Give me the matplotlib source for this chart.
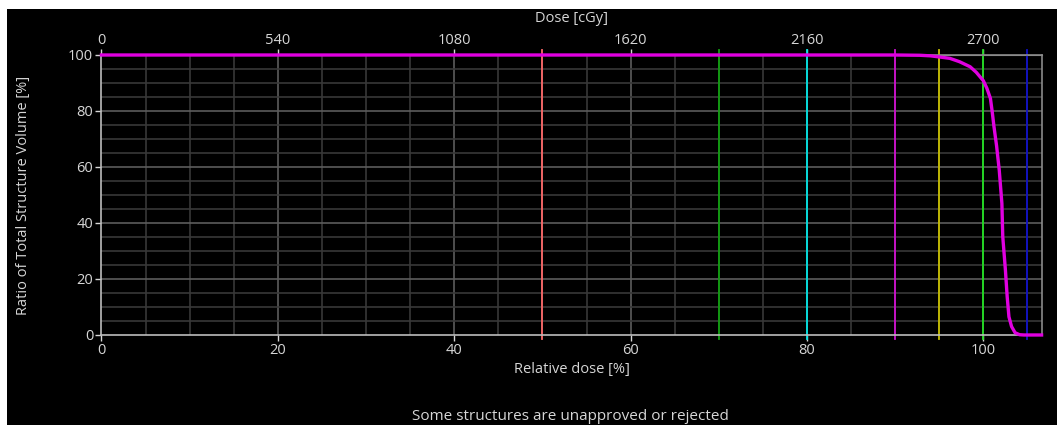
import matplotlib
matplotlib.use('Agg')
import matplotlib.pyplot as plt
from matplotlib.patches import Rectangle

plt.rcParams['font.family'] = ['Open Sans', 'DejaVu Sans']

# DVH curve (relative dose %, volume %)
rel_dose = [0, 90, 92.8, 94.0, 95.0, 96.2, 97.3, 98.5, 99.2, 100.0, 100.4, 100.8, 101.0,
            101.2, 101.5, 101.8, 102.1, 102.2, 102.5, 102.7, 102.9, 103.2, 103.6,
            104.1, 104.6, 106.6]
volume = [100, 100, 99.9, 99.7, 99.3, 98.8, 97.6, 95.8, 93.8, 90.8, 88.1, 84.5, 79.8,
          74.5, 67.5, 58.9, 47.0, 35.1, 23.2, 13.7, 6.5, 3.0, 0.8,
          0.1, 0, 0]

# isodose reference lines (relative dose %)
ref_levels = [50, 70, 80, 90, 95, 100, 105]
ref_colors = ['#ff6a6a', '#10a010', '#00e5e5', '#d010d0', '#c8c000', '#20e020', '#1010c8']

prescription = 2700  # cGy at 100 %
x_ticks = [0, 20, 40, 60, 80, 100]
y_ticks = [0, 20, 40, 60, 80, 100]
dose_ticks = [0, 540, 1080, 1620, 2160, 2700]

txt = '#d6d6d6'
fs = 10.5

fig = plt.figure(figsize=(10.57, 4.25), dpi=100, facecolor='white')
fig.patches.append(Rectangle((7 / 1057, 0), 1, 416 / 425, transform=fig.transFigure,
                             facecolor='black', edgecolor='none', zorder=-10))

ax = fig.add_axes([0.096, 0.2118, 0.8894, 0.6588])
ax.set_facecolor('black')
ax.set_xlim(0, 106.6)
ax.set_ylim(0, 100)

# grid
for v in range(5, 106, 5):
    c = '#5c5c5c' if v % 20 == 0 else '#383838'
    ax.axvline(v, color=c, lw=1.2, zorder=1)
for v in range(5, 100, 5):
    c = '#5c5c5c' if v % 20 == 0 else '#383838'
    ax.axhline(v, color=c, lw=1.2, zorder=1)

for lvl, col in zip(ref_levels, ref_colors):
    ax.plot([lvl, lvl], [-1.6, 101.8], color=col, lw=1.3, clip_on=False, zorder=2)

ax.plot(rel_dose, volume, color='#e000e0', lw=2.4, zorder=3, clip_on=False,
        solid_joinstyle='round')

for side in ['left', 'bottom']:
    ax.spines[side].set_color('#bcbcbc')
for side in ['top', 'right']:
    ax.spines[side].set_color('#8a8a8a')
for s in ax.spines.values():
    s.set_linewidth(1.2)

ax.set_xticks(x_ticks)
ax.set_yticks(y_ticks)
ax.tick_params(colors=txt, labelsize=fs, length=4, width=1, pad=2)
ax.set_xlabel('Relative dose [%]', color=txt, fontsize=fs, labelpad=3)
ax.set_ylabel('Ratio of Total Structure Volume [%]', color=txt, fontsize=fs, labelpad=27)

top = ax.secondary_xaxis('top', functions=(lambda x: x * prescription / 100,
                                           lambda d: d * 100 / prescription))
top.set_xticks(dose_ticks)
top.tick_params(colors=txt, labelsize=fs, length=4, width=1, pad=1)
top.spines['top'].set_color('#8a8a8a')
top.set_xlabel('Dose [cGy]', color=txt, fontsize=fs, labelpad=8)

fig.text(0.540, 0.021, 'Some structures are unapproved or rejected', color=txt,
         fontsize=11, ha='center', va='center')

fig.savefig('out.png', dpi=100, facecolor='white')
